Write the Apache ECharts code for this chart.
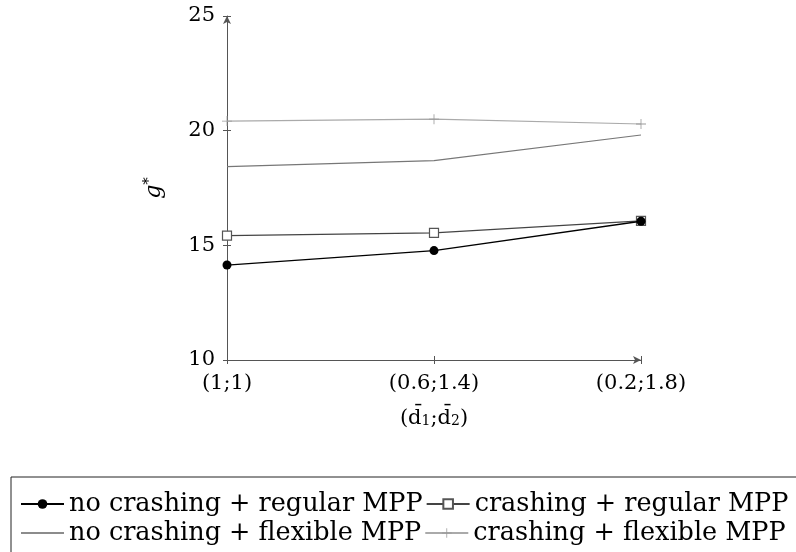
<!DOCTYPE html>
<html>
<head>
<meta charset="utf-8">
<script src="https://cdn.jsdelivr.net/npm/echarts@6/dist/echarts.min.js"></script>
<style>
  html, body { margin: 0; padding: 0; background: #fff; }
  #chart { width: 796px; height: 552px; }
</style>
</head>
<body>
<div id="chart"></div>
<script>
// categories (d1;d2) and g* values
var categories = ['(1;1)', '(0.6;1.4)', '(0.2;1.8)'];
var noCrashRegular = [14.14, 14.77, 16.05];
var crashRegular = [15.42, 15.54, 16.07];
var noCrashFlexible = [18.43, 18.69, 19.81];
var crashFlexible = [20.42, 20.5, 20.29];
var seriesNames = [
    'no crashing + regular MPP',
    'crashing + regular MPP',
    'no crashing + flexible MPP',
    'crashing + flexible MPP'
];

var font = 'DejaVu Serif';
var axisGray = '#555';
var plusPath = 'path://M4.6,0h0.8v4.6h4.6v0.8h-4.6v4.6h-0.8v-4.6h-4.6v-0.8h4.6z';

var chart = echarts.init(document.getElementById('chart'));

var option = {
    animation: false,
    backgroundColor: '#fff',
    grid: { left: 227, right: 155, top: 16, bottom: 192, containLabel: false },
    xAxis: [
        {
            type: 'category',
            data: categories,
            boundaryGap: false,
            axisLine: { lineStyle: { color: axisGray, width: 1 }, symbol: ['none', 'arrow'], symbolSize: [6, 8] },
            axisTick: { show: true, length: 4, lineStyle: { color: axisGray } },
            axisLabel: { color: '#000', fontFamily: font, fontSize: 21, margin: 13 },
            name: '(d\u0304{s|1};d\u0304{s|2})',
            nameLocation: 'middle',
            nameGap: 48,
            nameTextStyle: {
                color: '#000', fontFamily: font, fontSize: 21,
                rich: { s: { fontFamily: font, fontSize: 14, padding: [6, 0, 0, 0], color: '#000' } }
            }
        },
        {
            type: 'category',
            data: categories,
            boundaryGap: false,
            position: 'bottom',
            axisLine: { show: false },
            axisTick: { show: true, inside: true, length: 4, lineStyle: { color: axisGray } },
            axisLabel: { show: false }
        }
    ],
    yAxis: [
        {
            type: 'value',
            min: 10, max: 25, interval: 5,
            axisLine: { show: true, lineStyle: { color: axisGray, width: 1 }, symbol: ['none', 'arrow'], symbolSize: [6, 8] },
            axisTick: { show: true, length: 4, lineStyle: { color: axisGray } },
            axisLabel: { color: '#000', fontFamily: font, fontSize: 21, margin: 12 },
            splitLine: { show: false },
            name: '{g|g}{p|*}',
            nameLocation: 'middle',
            nameGap: 60,
            nameRotate: 90,
            nameTextStyle: {
                rich: {
                    g: { fontFamily: font, fontStyle: 'italic', fontSize: 22, color: '#000' },
                    p: { fontFamily: font, fontSize: 15, color: '#000', padding: [0, 0, 10, 0] }
                }
            }
        },
        {
            type: 'value',
            min: 10, max: 25, interval: 5,
            position: 'left',
            axisLine: { show: false },
            axisTick: { show: true, inside: true, length: 4, lineStyle: { color: axisGray } },
            axisLabel: { show: false },
            splitLine: { show: false }
        }
    ],
    legend: {
        left: 11,
        top: 477,
        width: 840,
        padding: [14, 60, 60, 9],
        borderColor: '#222',
        borderWidth: 1,
        itemWidth: 43,
        itemHeight: 12,
        itemGap: 3,
        textStyle: { color: '#000', fontFamily: font, fontSize: 25.5 },
        data: [
            seriesNames[0],
            seriesNames[1],
            {
                name: seriesNames[2],
                itemStyle: { color: 'rgba(0,0,0,0)', borderWidth: 0 },
                lineStyle: { color: '#666', width: 1.3 }
            },
            seriesNames[3]
        ]
    },
    series: [
        {
            name: seriesNames[0],
            type: 'line',
            z: 5,
            data: noCrashRegular,
            symbol: 'circle',
            symbolSize: 9,
            lineStyle: { color: '#000', width: 1.3 },
            itemStyle: { color: '#000' }
        },
        {
            name: seriesNames[1],
            type: 'line',
            z: 4,
            data: crashRegular,
            symbol: 'rect',
            symbolSize: 9,
            lineStyle: { color: '#444', width: 1.2 },
            itemStyle: { color: '#fff', borderColor: '#555', borderWidth: 1.2 }
        },
        {
            name: seriesNames[2],
            type: 'line',
            z: 3,
            data: noCrashFlexible,
            symbol: 'none',
            lineStyle: { color: '#777', width: 1.2 },
            itemStyle: { color: '#777' }
        },
        {
            name: seriesNames[3],
            type: 'line',
            z: 3,
            data: crashFlexible,
            symbol: plusPath,
            symbolSize: 10,
            lineStyle: { color: '#aaa', width: 1.2 },
            itemStyle: { color: '#999' }
        }
    ]
};

chart.setOption(option);
</script>
</body>
</html>
